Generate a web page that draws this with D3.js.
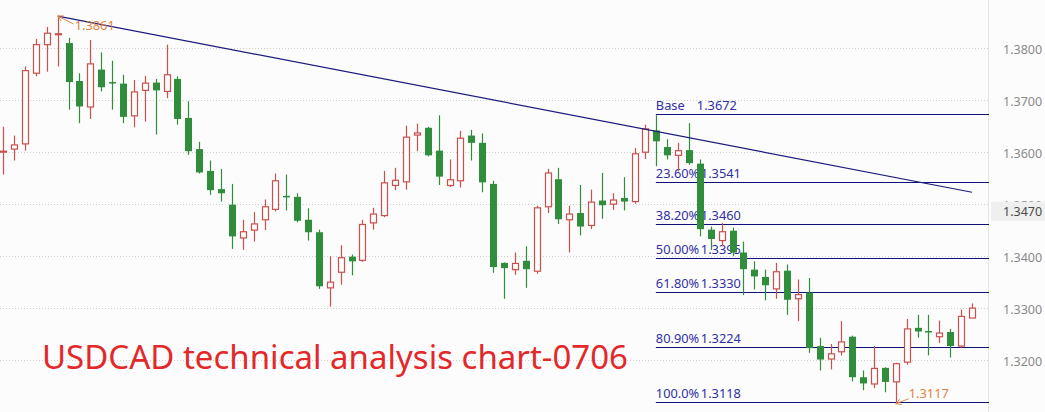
<!DOCTYPE html>
<html>
<head>
<meta charset="utf-8">
<script src="https://cdn.jsdelivr.net/npm/d3@7/dist/d3.min.js"></script>
<style>
  html, body { margin: 0; padding: 0; background: #fcfcfc; }
  svg { display: block; }
</style>
</head>
<body>
<svg id="chart" width="1045" height="412"></svg>
<script>
// ---------------- DATA ----------------
const candleIndex = d3.range(90);
const opens = [1.3602,1.3607,1.3617,1.3753,1.3808,1.3828,1.3811,1.3738,1.3688,1.3760,
  1.3736,1.3733,1.3671,1.3720,1.3735,1.3718,1.3742,1.3667,1.3607,1.3565,
  1.3530,1.3500,1.3436,1.3451,1.3471,1.3491,1.3517,1.3515,1.3471,1.3447,
  1.3340,1.3370,1.3400,1.3393,1.3465,1.3479,1.3537,1.3544,1.3634,1.3648,
  1.3604,1.3537,1.3546,1.3633,1.3619,1.3540,1.3388,1.3375,1.3392,1.3372,
  1.3496,1.3549,1.3471,1.3484,1.3460,1.3508,1.3501,1.3513,1.3506,1.3601,
  1.3643,1.3611,1.3595,1.3605,1.3579,1.3452,1.3431,1.3450,1.3408,1.3375,
  1.3361,1.3338,1.3373,1.3319,1.3331,1.3228,1.3203,1.3217,1.3246,1.3168,
  1.3155,1.3186,1.3159,1.3197,1.3263,1.3257,1.3246,1.3255,1.3228,1.3282];
const highs = [1.3650,1.3633,1.3766,1.3819,1.3842,1.3863,1.3821,1.3753,1.3817,1.3793,
  1.3777,1.3750,1.3740,1.3748,1.3742,1.3808,1.3747,1.3699,1.3621,1.3585,
  1.3569,1.3540,1.3471,1.3486,1.3510,1.3560,1.3558,1.3522,1.3493,1.3452,
  1.3401,1.3422,1.3404,1.3471,1.3494,1.3565,1.3571,1.3652,1.3656,1.3650,
  1.3672,1.3587,1.3642,1.3644,1.3637,1.3546,1.3389,1.3408,1.3420,1.3498,
  1.3569,1.3571,1.3498,1.3538,1.3529,1.3561,1.3522,1.3553,1.3609,1.3654,
  1.3672,1.3626,1.3619,1.3657,1.3587,1.3458,1.3465,1.3456,1.3429,1.3391,
  1.3375,1.3388,1.3385,1.3356,1.3359,1.3244,1.3232,1.3276,1.3248,1.3181,
  1.3228,1.3187,1.3196,1.3280,1.3288,1.3288,1.3277,1.3261,1.3298,1.3310];
const lows = [1.3558,1.3585,1.3604,1.3747,1.3756,1.3766,1.3683,1.3657,1.3665,1.3718,
  1.3683,1.3657,1.3649,1.3660,1.3635,1.3705,1.3654,1.3596,1.3560,1.3519,
  1.3506,1.3415,1.3413,1.3429,1.3451,1.3487,1.3489,1.3466,1.3431,1.3338,
  1.3304,1.3346,1.3364,1.3390,1.3452,1.3476,1.3528,1.3529,1.3603,1.3593,
  1.3538,1.3534,1.3533,1.3585,1.3524,1.3369,1.3319,1.3365,1.3340,1.3367,
  1.3484,1.3463,1.3408,1.3441,1.3453,1.3473,1.3490,1.3489,1.3502,1.3588,
  1.3574,1.3587,1.3564,1.3577,1.3439,1.3413,1.3420,1.3401,1.3326,1.3337,
  1.3316,1.3319,1.3288,1.3276,1.3215,1.3181,1.3183,1.3210,1.3160,1.3143,
  1.3147,1.3139,1.3117,1.3192,1.3244,1.3210,1.3234,1.3206,1.3224,1.3282];
const closes = [1.3603,1.3615,1.3758,1.3808,1.3830,1.3829,1.3736,1.3689,1.3771,1.3726,
  1.3735,1.3669,1.3717,1.3734,1.3720,1.3750,1.3665,1.3603,1.3562,1.3528,
  1.3522,1.3439,1.3448,1.3463,1.3496,1.3546,1.3516,1.3469,1.3447,1.3343,
  1.3351,1.3398,1.3391,1.3462,1.3482,1.3542,1.3547,1.3630,1.3638,1.3595,
  1.3554,1.3548,1.3628,1.3619,1.3543,1.3380,1.3378,1.3387,1.3376,1.3494,
  1.3561,1.3472,1.3482,1.3458,1.3505,1.3499,1.3509,1.3506,1.3598,1.3646,
  1.3622,1.3595,1.3604,1.3580,1.3453,1.3434,1.3448,1.3408,1.3376,1.3362,
  1.3345,1.3371,1.3317,1.3327,1.3224,1.3202,1.3213,1.3236,1.3168,1.3156,
  1.3185,1.3159,1.3194,1.3261,1.3256,1.3256,1.3253,1.3228,1.3285,1.3301];

const yTicks = [1.38, 1.37, 1.36, 1.35, 1.34, 1.33, 1.32];
const currentPrice = 1.3470;

const fibNames  = ["Base", "23.60%", "38.20%", "50.00%", "61.80%", "80.90%", "100.0%"];
const fibLevels = [1.3672, 1.3541, 1.3460, 1.3395, 1.3330, 1.3224, 1.3118];
const fibStartIndex = 60;

const trendIndex = [5, 89];
const trendPrice = [1.3863, 1.3524];

const highMark = { index: 5, price: 1.3863, label: "1.3861" };
const lowMark  = { index: 82, price: 1.3117, label: "1.3117" };

const titleText = "USDCAD technical analysis chart-0706";

// ---------------- SCALES ----------------
const svg = d3.select("#chart");
const W = 1045, H = 412;
const axisX = 988;
const x = d3.scaleLinear().domain([0, 89]).range([3.3, 972]);
const y = d3.scaleLinear().domain([1.32, 1.38]).range([360.6, 48.8]);

const UP = "#c9504c", DOWN = "#2f8d3b";
const bg = "#fcfcfc";

svg.append("rect").attr("width", W).attr("height", H).attr("fill", bg);

// grid
svg.append("g").selectAll("line").data(yTicks).join("line")
  .attr("x1", 0).attr("x2", axisX)
  .attr("y1", d => Math.round(y(d)) - 0.5).attr("y2", d => Math.round(y(d)) - 0.5)
  .attr("stroke", "#cfcfcf").attr("stroke-dasharray", "1,2").attr("stroke-width", 1);

// axis separator
svg.append("line").attr("x1", axisX + 0.5).attr("x2", axisX + 0.5)
  .attr("y1", 0).attr("y2", H).attr("stroke", "#e4e4e4");

// right axis labels via d3 axis
const axisG = svg.append("g").attr("transform", `translate(${axisX},0)`)
  .call(d3.axisRight(y).tickValues(yTicks).tickFormat(d3.format(".4f")).tickSize(0).tickPadding(15));
axisG.select(".domain").remove();
axisG.selectAll("text").attr("fill", "#8a8a8a")
  .style("font-family", "'Noto Sans', sans-serif").style("font-size", "12.5px")
  .attr("dy", "0.4em");

// current price label box
const cy = y(currentPrice) - 9;
svg.append("rect").attr("x", axisX + 3).attr("y", cy - 9.5).attr("width", W - axisX - 3).attr("height", 19)
  .attr("fill", "#efefef");
svg.append("text").attr("x", axisX + 15).attr("y", cy).attr("dy", "0.4em")
  .attr("fill", "#4a4a4a").style("font-family", "'Noto Sans', sans-serif").style("font-size", "12.5px")
  .text(d3.format(".4f")(currentPrice));

// fib lines
const fibG = svg.append("g");
const fx0 = x(fibStartIndex) - 0.5;
fibLevels.forEach((lv, i) => {
  const yy = Math.round(y(lv)) - 0.5;
  fibG.append("line").attr("x1", fx0).attr("x2", axisX + 1).attr("y1", yy).attr("y2", yy)
    .attr("stroke", "#10107a").attr("stroke-width", 1.2);
  const t = fibG.append("text").attr("y", yy - 5)
    .attr("fill", "#3030a6").style("font-family", "'Noto Sans', sans-serif").style("font-size", "12.8px");
  t.append("tspan").attr("x", fx0).text(fibNames[i]);
  t.append("tspan").attr("x", i === 0 ? fx0 + 41 : fx0 + 45).text(d3.format(".4f")(lv));
});

// candles
const bw = 7;
const cg = svg.append("g");
candleIndex.forEach(i => {
  const o = opens[i], c = closes[i], h = highs[i], l = lows[i];
  const up = c >= o;
  const col = up ? UP : DOWN;
  const cx = Math.round(x(i)) + 0.5;
  cg.append("line").attr("x1", cx).attr("x2", cx).attr("y1", y(h)).attr("y2", y(l))
    .attr("stroke", col).attr("stroke-width", 1.2);
  const top = y(Math.max(o, c)), bot = y(Math.min(o, c));
  const hgt = Math.max(1, bot - top);
  if (up) {
    cg.append("rect").attr("x", cx - bw / 2 + 0.5).attr("y", top).attr("width", bw - 1).attr("height", hgt)
      .attr("fill", bg).attr("stroke", col).attr("stroke-width", 1.2);
  } else {
    cg.append("rect").attr("x", cx - bw / 2).attr("y", top).attr("width", bw).attr("height", Math.max(1.5, hgt))
      .attr("fill", col);
  }
});

// trendline
svg.append("line")
  .attr("x1", x(trendIndex[0])).attr("y1", y(trendPrice[0]))
  .attr("x2", x(trendIndex[1])).attr("y2", y(trendPrice[1]))
  .attr("stroke", "#1c1c7c").attr("stroke-width", 1.2);

// high/low annotations
function mark(m, dx, dy, tx, ty) {
  const px = x(m.index), py = y(m.price);
  const g = svg.append("g");
  const ex = px + dx, ey = py + dy;
  g.append("line").attr("x1", px).attr("y1", py).attr("x2", ex).attr("y2", ey)
    .attr("stroke", "#e8874a").attr("stroke-width", 1);
  const ang = Math.atan2(ey - py, ex - px);
  const a1 = ang + 0.5, a2 = ang - 0.5, L = 6;
  g.append("path").attr("d",
    `M${px + L * Math.cos(a1)},${py + L * Math.sin(a1)}L${px},${py}L${px + L * Math.cos(a2)},${py + L * Math.sin(a2)}`)
    .attr("fill", "none").attr("stroke", "#e8874a").attr("stroke-width", 1);
  g.append("text").attr("x", px + tx).attr("y", py + ty).attr("fill", "#e0843f")
    .style("font-family", "'Noto Sans', sans-serif").style("font-size", "12.8px").text(m.label);
}
mark(highMark, 16, 8, 17, 14);
mark(lowMark, 13, -5, 13, -6);

// title
const title = svg.append("text").attr("x", 42).attr("y", 369).attr("fill", "#e3282a")
  .style("font-family", "'Noto Sans', sans-serif").style("font-size", "33px").text(titleText);
title.attr("textLength", 586).attr("lengthAdjust", "spacingAndGlyphs");
</script>
</body>
</html>
